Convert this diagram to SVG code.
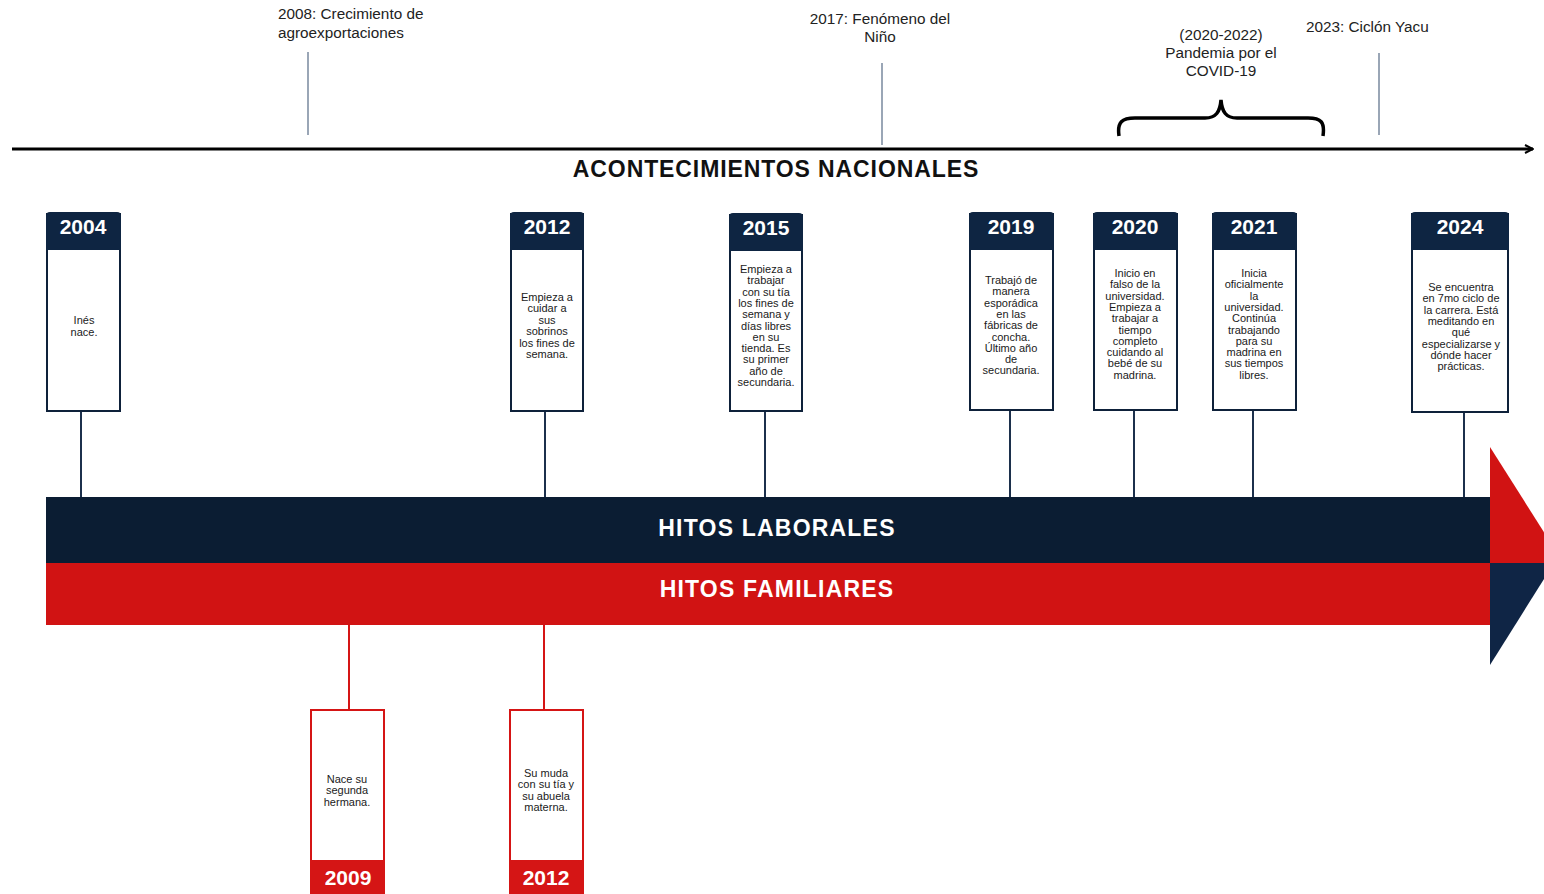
<svg xmlns="http://www.w3.org/2000/svg" width="1544" height="894" viewBox="0 0 1544 894">
<style>
.ev{font-family:"Liberation Sans",Arial,sans-serif;font-size:15.3px;fill:#222}
.evl{stroke:#9aa6b6;stroke-width:2;fill:none}
.box{fill:#fff;stroke:#0e213a;stroke-width:2}
.hdr{fill:#0e2542}
.rbox{fill:#fff;stroke:#d51515;stroke-width:2}
.rhdr{fill:#d51515}
.yr{font-family:"Liberation Sans",Arial,sans-serif;font-size:21px;font-weight:bold;fill:#fff;text-anchor:middle}
.bt{font-family:"Liberation Sans",Arial,sans-serif;font-size:11px;fill:#1a1a1a;text-anchor:middle}
.lk{stroke:#1c304c;stroke-width:2}
.rlk{stroke:#d51515;stroke-width:2}
.band{font-family:"Liberation Sans",Arial,sans-serif;font-size:23px;font-weight:bold;fill:#fff;text-anchor:middle;letter-spacing:1.2px}
</style>
<defs>
<marker id="ah" viewBox="0 0 10 10" refX="9" refY="5" markerWidth="10" markerHeight="10" markerUnits="userSpaceOnUse" orient="auto">
<path d="M1,1 L9,5 L1,9" fill="none" stroke="#000" stroke-width="2"/>
</marker>
</defs>
<rect width="1544" height="894" fill="#fff"/>

<!-- national events -->
<g id="axis">
<line x1="12" y1="149" x2="1533" y2="149" stroke="#000" stroke-width="3" marker-end="url(#ah)"/>
<text x="776" y="177" text-anchor="middle" font-family="Liberation Sans,Arial,sans-serif" font-size="23" font-weight="bold" letter-spacing="0.9" fill="#111">ACONTECIMIENTOS NACIONALES</text>
</g>
<g id="ev2008">
<line class="evl" x1="308" y1="52" x2="308" y2="135"/>
<text class="ev" x="278" y="19">2008: Crecimiento de</text>
<text class="ev" x="278" y="38">agroexportaciones</text>
</g>
<g id="ev2017">
<line class="evl" x1="882" y1="63" x2="882" y2="145"/>
<text class="ev" x="880" y="24" text-anchor="middle">2017: Fenómeno del</text>
<text class="ev" x="880" y="42" text-anchor="middle">Niño</text>
</g>
<g id="ev2020">
<path d="M1119,136 C1117,122 1122,118 1135,118 L1205,118 C1216,118 1220,112 1221,100 C1222,112 1226,118 1237,118 L1308,118 C1321,118 1325,122 1323,136" fill="none" stroke="#000" stroke-width="3.5"/>
<text class="ev" x="1221" y="40" text-anchor="middle">(2020-2022)</text>
<text class="ev" x="1221" y="58" text-anchor="middle">Pandemia por el</text>
<text class="ev" x="1221" y="76" text-anchor="middle">COVID-19</text>
</g>
<g id="ev2023">
<line class="evl" x1="1379" y1="53" x2="1379" y2="135"/>
<text class="ev" x="1306" y="32">2023: Ciclón Yacu</text>
</g>

<!-- bands -->
<g id="bands">
<rect x="46" y="497" width="1444" height="66" fill="#0b1d33"/>
<rect x="46" y="563" width="1444" height="62" fill="#d11313"/>
<path d="M1490,447 L1559,556 L1554,563 L1490,563 Z" fill="#d11313"/>
<path d="M1490,563 L1554,563 L1490,665 Z" fill="#0f2545"/>
<text class="band" x="777" y="536">HITOS LABORALES</text>
<text class="band" x="777" y="597">HITOS FAMILIARES</text>
</g>

<!-- connectors -->
<g id="connectors">
<line class="lk" x1="81" y1="411" x2="81" y2="497"/>
<line class="lk" x1="545" y1="411" x2="545" y2="497"/>
<line class="lk" x1="765" y1="411" x2="765" y2="497"/>
<line class="lk" x1="1010" y1="410" x2="1010" y2="497"/>
<line class="lk" x1="1134" y1="410" x2="1134" y2="497"/>
<line class="lk" x1="1253" y1="410" x2="1253" y2="497"/>
<line class="lk" x1="1464" y1="412" x2="1464" y2="497"/>
<line class="rlk" x1="349" y1="625" x2="349" y2="710"/>
<line class="rlk" x1="544" y1="625" x2="544" y2="710"/>
</g>

<!-- laboral nodes -->
<g id="n2004">
<rect class="box" x="47" y="214" width="73" height="197"/>
<path class="hdr" d="M46,216 Q46,212 50,212 H117 Q121,212 121,216 V250 H46 Z"/>
<text class="yr" x="83" y="234">2004</text>
<text class="bt" x="84" y="324">Inés</text>
<text class="bt" x="84" y="335.5">nace.</text>
</g>
<g id="n2012">
<rect class="box" x="511" y="214" width="72" height="197"/>
<path class="hdr" d="M510,216 Q510,212 514,212 H580 Q584,212 584,216 V250 H510 Z"/>
<text class="yr" x="547" y="234">2012</text>
<text class="bt" x="547" y="301">Empieza a</text>
<text class="bt" x="547" y="312.4">cuidar a</text>
<text class="bt" x="547" y="323.8">sus</text>
<text class="bt" x="547" y="335.2">sobrinos</text>
<text class="bt" x="547" y="346.6">los fines de</text>
<text class="bt" x="547" y="358">semana.</text>
</g>
<g id="n2015">
<rect class="box" x="730" y="215" width="72" height="196"/>
<path class="hdr" d="M729,217 Q729,213 733,213 H799 Q803,213 803,217 V251 H729 Z"/>
<text class="yr" x="766" y="235">2015</text>
<text class="bt" x="766" y="273">Empieza a</text>
<text class="bt" x="766" y="284.3">trabajar</text>
<text class="bt" x="766" y="295.6">con su tía</text>
<text class="bt" x="766" y="306.9">los fines de</text>
<text class="bt" x="766" y="318.2">semana y</text>
<text class="bt" x="766" y="329.5">días libres</text>
<text class="bt" x="766" y="340.8">en su</text>
<text class="bt" x="766" y="352.1">tienda. Es</text>
<text class="bt" x="766" y="363.4">su primer</text>
<text class="bt" x="766" y="374.7">año de</text>
<text class="bt" x="766" y="386">secundaria.</text>
</g>
<g id="n2019">
<rect class="box" x="970" y="214" width="83" height="196"/>
<path class="hdr" d="M969,216 Q969,212 973,212 H1050 Q1054,212 1054,216 V250 H969 Z"/>
<text class="yr" x="1011" y="234">2019</text>
<text class="bt" x="1011" y="284">Trabajó de</text>
<text class="bt" x="1011" y="295.3">manera</text>
<text class="bt" x="1011" y="306.6">esporádica</text>
<text class="bt" x="1011" y="317.9">en las</text>
<text class="bt" x="1011" y="329.2">fábricas de</text>
<text class="bt" x="1011" y="340.5">concha.</text>
<text class="bt" x="1011" y="351.8">Último año</text>
<text class="bt" x="1011" y="363.1">de</text>
<text class="bt" x="1011" y="374.4">secundaria.</text>
</g>
<g id="n2020">
<rect class="box" x="1094" y="214" width="83" height="196"/>
<path class="hdr" d="M1093,216 Q1093,212 1097,212 H1174 Q1178,212 1178,216 V250 H1093 Z"/>
<text class="yr" x="1135" y="234">2020</text>
<text class="bt" x="1135" y="277">Inicio en</text>
<text class="bt" x="1135" y="288.3">falso de la</text>
<text class="bt" x="1135" y="299.6">universidad.</text>
<text class="bt" x="1135" y="310.9">Empieza a</text>
<text class="bt" x="1135" y="322.2">trabajar a</text>
<text class="bt" x="1135" y="333.5">tiempo</text>
<text class="bt" x="1135" y="344.8">completo</text>
<text class="bt" x="1135" y="356.1">cuidando al</text>
<text class="bt" x="1135" y="367.4">bebé de su</text>
<text class="bt" x="1135" y="378.7">madrina.</text>
</g>
<g id="n2021">
<rect class="box" x="1213" y="214" width="83" height="196"/>
<path class="hdr" d="M1212,216 Q1212,212 1216,212 H1293 Q1297,212 1297,216 V250 H1212 Z"/>
<text class="yr" x="1254" y="234">2021</text>
<text class="bt" x="1254" y="277">Inicia</text>
<text class="bt" x="1254" y="288.3">oficialmente</text>
<text class="bt" x="1254" y="299.6">la</text>
<text class="bt" x="1254" y="310.9">universidad.</text>
<text class="bt" x="1254" y="322.2">Continúa</text>
<text class="bt" x="1254" y="333.5">trabajando</text>
<text class="bt" x="1254" y="344.8">para su</text>
<text class="bt" x="1254" y="356.1">madrina en</text>
<text class="bt" x="1254" y="367.4">sus tiempos</text>
<text class="bt" x="1254" y="378.7">libres.</text>
</g>
<g id="n2024">
<rect class="box" x="1412" y="214" width="96" height="198"/>
<path class="hdr" d="M1411,216 Q1411,212 1415,212 H1505 Q1509,212 1509,216 V250 H1411 Z"/>
<text class="yr" x="1460" y="234">2024</text>
<text class="bt" x="1461" y="291">Se encuentra</text>
<text class="bt" x="1461" y="302.3">en 7mo ciclo de</text>
<text class="bt" x="1461" y="313.6">la carrera. Está</text>
<text class="bt" x="1461" y="324.9">meditando en</text>
<text class="bt" x="1461" y="336.2">qué</text>
<text class="bt" x="1461" y="347.5">especializarse y</text>
<text class="bt" x="1461" y="358.8">dónde hacer</text>
<text class="bt" x="1461" y="370.1">prácticas.</text>
</g>

<!-- family nodes -->
<g id="f2009">
<rect class="rbox" x="311" y="710" width="73" height="190"/>
<path class="rhdr" d="M310,860 H385 V894 H310 Z"/>
<text class="yr" x="348" y="885">2009</text>
<text class="bt" x="347" y="783">Nace su</text>
<text class="bt" x="347" y="794.4">segunda</text>
<text class="bt" x="347" y="805.8">hermana.</text>
</g>
<g id="f2012">
<rect class="rbox" x="510" y="710" width="73" height="190"/>
<path class="rhdr" d="M509,860 H584 V894 H509 Z"/>
<text class="yr" x="546" y="885">2012</text>
<text class="bt" x="546" y="777">Su muda</text>
<text class="bt" x="546" y="788.4">con su tía y</text>
<text class="bt" x="546" y="799.8">su abuela</text>
<text class="bt" x="546" y="811.2">materna.</text>
</g>
</svg>
